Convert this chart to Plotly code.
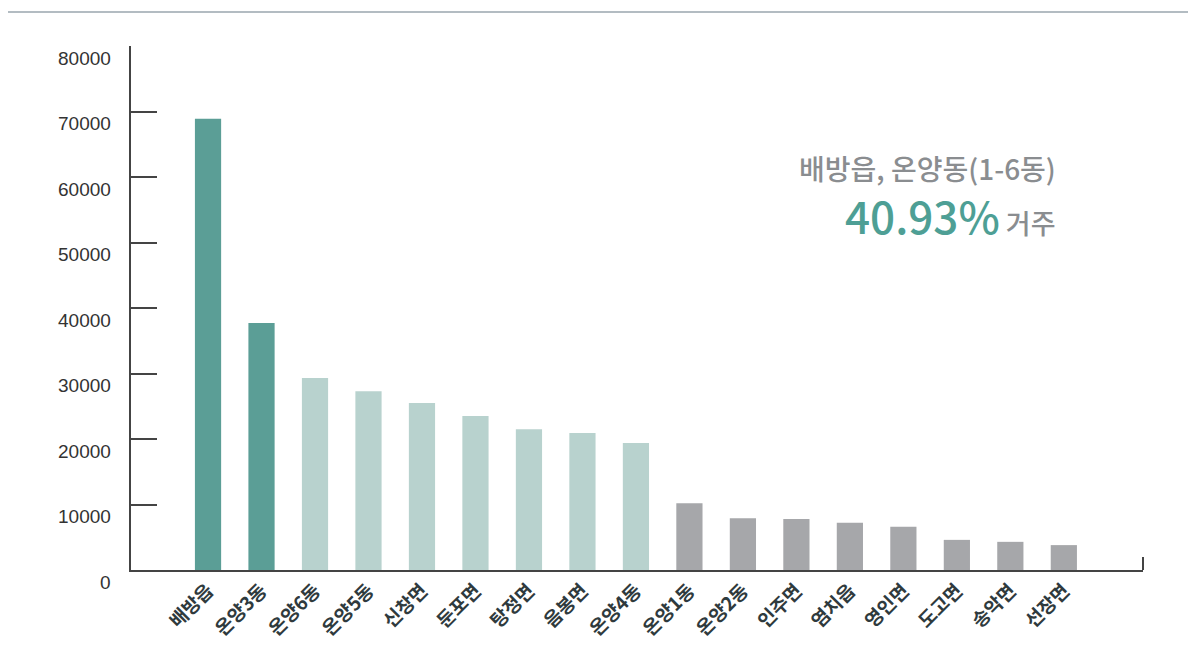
import plotly.graph_objects as go

categories = ["배방읍", "온양3동", "온양6동", "온양5동", "신창면", "둔포면", "탕정면", "음봉면",
              "온양4동", "온양1동", "온양2동", "인주면", "염치읍", "영인면", "도고면", "송악면", "선장면"]
values = [68900, 37700, 29300, 27300, 25500, 23500, 21500, 20900,
          19400, 10200, 7900, 7800, 7200, 6600, 4600, 4300, 3800]
groups = ["hi", "hi", "mid", "mid", "mid", "mid", "mid", "mid",
          "mid", "lo", "lo", "lo", "lo", "lo", "lo", "lo", "lo"]
y_ticks = [0, 10000, 20000, 30000, 40000, 50000, 60000, 70000, 80000]
note_line1 = "배방읍, 온양동(1-6동)"
note_pct = "40.93%"
note_tail = "거주"

color_map = {"hi": "#5B9E96", "mid": "#B8D2CE", "lo": "#A6A7AA"}
colors = [color_map[g] for g in groups]

FONT = "Noto Sans CJK KR"

fig = go.Figure()
fig.add_trace(go.Bar(x=categories, y=values, marker=dict(color=colors, line=dict(width=0)),
                     width=0.49, hoverinfo="x+y"))

# page body adds an 8px offset; margins compensate so plot area is at x 131-1143, y 46-570
fig.update_layout(
    width=1196, height=654,
    margin=dict(l=123, r=61, t=38, b=92, autoexpand=False),
    paper_bgcolor="white", plot_bgcolor="white",
    showlegend=False,
    font=dict(family=FONT, color="#333333"),
    xaxis=dict(
        type="category", range=[-1.44, 17.48], automargin=False,
        showline=True, linecolor="#444444", linewidth=2,
        ticks="", tickangle=-45, showgrid=False, zeroline=False,
        tickfont=dict(family=FONT, size=19, color="#2f3a3d", weight="bold"),
    ),
    yaxis=dict(
        range=[0, 80000], tickvals=y_ticks, showticklabels=False, automargin=False,
        showline=True, linecolor="#444444", linewidth=1.5,
        ticks="inside", ticklen=26, tickcolor="#444444", tickwidth=1.5,
        showgrid=False, zeroline=False,
    ),
)

for v in y_ticks:
    fig.add_annotation(x=-0.0178, xref="paper", xanchor="right", y=v, yref="y",
                       yshift=-12, text=str(v), showarrow=False,
                       font=dict(family="Liberation Sans", size=19, color="#333333"))

# right end tick of x-axis
fig.add_shape(type="line", xref="paper", yref="paper", x0=1, x1=1, y0=0, y1=0.025,
              line=dict(color="#444444", width=2))

# faint page frame (top)
fig.add_shape(type="line", xref="paper", yref="paper", x0=-0.13, x1=1.06, y0=1.065, y1=1.065,
              line=dict(color="#9AA6AE", width=1.5))

fig.add_annotation(x=0.916, xref="paper", y=0.768, yref="paper", xanchor="right", yanchor="middle",
                   text=note_line1, showarrow=False,
                   font=dict(family=FONT, size=28, color="#8A8D90", weight=500))
fig.add_annotation(x=0.916, xref="paper", y=0.677, yref="paper", xanchor="right", yanchor="middle",
                   text=f"<span style='font-size:44px;color:#4E9F95;font-weight:500'>{note_pct}</span>"
                        f"<span style='font-size:27px;color:#8A8D90'> {note_tail}</span>",
                   showarrow=False, font=dict(family=FONT, size=27, color="#8A8D90", weight=500))

fig.write_html("out.html")
